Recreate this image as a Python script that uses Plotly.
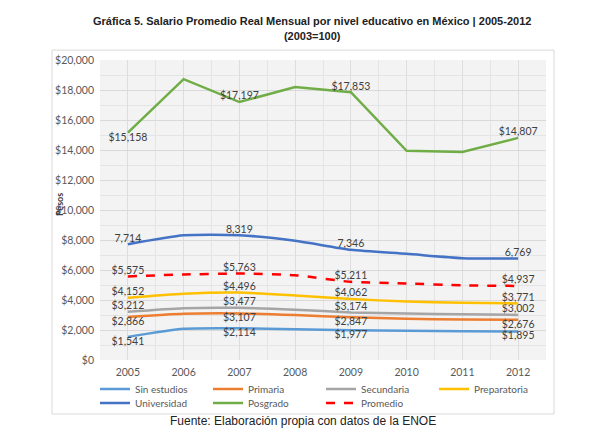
import plotly.graph_objects as go

years = [2005, 2006, 2007, 2008, 2009, 2010, 2011, 2012]

sin_estudios = [1541, 2080, 2114, 2050, 1977, 1950, 1920, 1895]
primaria = [2866, 3080, 3107, 3000, 2847, 2750, 2700, 2676]
secundaria = [3212, 3450, 3477, 3350, 3174, 3100, 3050, 3002]
preparatoria = [4152, 4420, 4496, 4300, 4062, 3900, 3820, 3771]
universidad = [7714, 8310, 8319, 7950, 7346, 7080, 6790, 6769]
posgrado = [15158, 18720, 17197, 18200, 17853, 13950, 13870, 14807]
promedio = [5575, 5700, 5763, 5650, 5211, 5100, 4980, 4937]

labeled_years = [2005, 2007, 2009, 2012]

fig = go.Figure()


def lab(vals, prefix="$"):
    return [f"{prefix}{v:,}" if y in labeled_years else "" for y, v in zip(years, vals)]


series = [
    ("Sin estudios", sin_estudios, "#5B9BD5", "solid", "bottom center", "$", "spline", "legend"),
    ("Primaria", primaria, "#ED7D31", "solid", "bottom center", "$", "spline", "legend"),
    ("Secundaria", secundaria, "#A5A5A5", "solid", "top center", "$", "spline", "legend"),
    ("Preparatoria", preparatoria, "#FFC000", "solid", "top center", "$", "spline", "legend"),
    ("Universidad", universidad, "#4472C4", "solid", "top center", "", "spline", "legend2"),
    ("Posgrado", posgrado, "#70AD47", "solid", "top center", "$", "linear", "legend2"),
    ("Promedio", promedio, "#FF0000", "dash", "top center", "$", "spline", "legend2"),
]

for name, vals, color, dash, pos, prefix, shape, leg in series:
    positions = [pos] * len(years)
    if name == "Posgrado":
        positions[0] = "bottom center"
    fig.add_trace(go.Scatter(
        x=years, y=vals, name=name, mode="lines+text", legend=leg,
        line=dict(color=color, width=2.5, dash=dash, shape=shape, smoothing=0.6),
        text=lab(vals, prefix), textposition=positions,
        textfont=dict(family="Lato", size=10.5, color="#404040"),
        cliponaxis=False,
    ))

legend_style = dict(
    orientation="h", x=(95 - 100) / 446, xanchor="left", yanchor="top",
    entrywidth=68, font=dict(size=10, color="#595959"),
    tracegroupgap=0, itemwidth=30, bgcolor="rgba(0,0,0,0)",
)

# the page body adds an 8px offset, so margins are shifted by 8px
fig.update_layout(
    width=600, height=435,
    margin=dict(l=92, r=62, t=52, b=83, autoexpand=False),
    paper_bgcolor="white",
    plot_bgcolor="#f3f3f3",
    font=dict(family="Lato", size=10, color="#595959"),
    title=dict(
        text="<b>Gráfica 5. Salario Promedio Real Mensual por nivel educativo en México | 2005-2012</b><br><b>(2003=100)</b>",
        x=0.507, xanchor="center", y=0.96, yanchor="top",
        font=dict(family="Liberation Sans", size=11, color="#222222"),
    ),
    xaxis=dict(
        range=[2004.5, 2012.5], tickvals=years, ticks="", showline=False,
        showgrid=True, gridcolor="#dddddd", gridwidth=1,
        minor=dict(dtick=0.5, tick0=2004.5, showgrid=True, gridcolor="#e4e4e4"),
        tickfont=dict(size=10.5, color="#595959"), zeroline=False,
        ticklabelstandoff=4,
    ),
    yaxis=dict(
        range=[0, 20000], dtick=2000, tickprefix="$", tickformat=",",
        showgrid=True, gridcolor="#d9d9d9", zeroline=False, ticks="",
        minor=dict(dtick=1000, showgrid=True, gridcolor="#e4e4e4"),
        tickfont=dict(size=10.5, color="#595959"),
        ticklabelstandoff=5,
    ),
    legend=dict(y=-0.048, **legend_style),
    legend2=dict(y=-0.095, **legend_style),
    showlegend=True,
)

# y axis title
fig.add_annotation(
    text="<b>Pesos</b>", textangle=-90, xref="paper", yref="paper",
    x=(60 - 100) / 446, y=(360 - 205) / 300, xanchor="center", yanchor="middle",
    showarrow=False, font=dict(family="Lato", size=9, color="#404040"),
)

# chart border box
fig.add_shape(type="rect", xref="paper", yref="paper",
              x0=-0.1076, x1=1.018, y0=-0.18, y1=1.033,
              line=dict(color="#d9d9d9", width=1), layer="below")

fig.add_annotation(
    text="Fuente: Elaboración propia con datos de la ENOE",
    xref="paper", yref="paper", x=(303 - 100) / 446, y=(360 - 421) / 300,
    xanchor="center", yanchor="middle", showarrow=False,
    font=dict(family="Liberation Sans", size=12, color="#222222"),
)

fig.write_html("out.html")
